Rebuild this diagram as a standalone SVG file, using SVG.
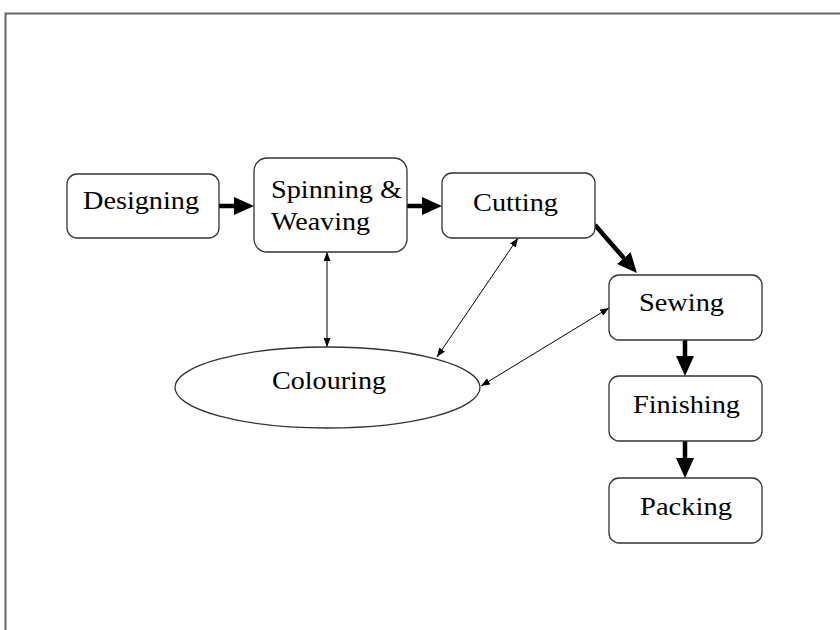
<svg xmlns="http://www.w3.org/2000/svg" width="840" height="630" viewBox="0 0 840 630">
  <style>
    .box { fill: #ffffff; stroke: #333333; stroke-width: 1.3; }
    .lbl { font-family: "Liberation Serif", "Times New Roman", serif; font-size: 25px; fill: #000000; }
    .flow { stroke: #000000; stroke-width: 4.5; fill: none; }
    .link { stroke: #000000; stroke-width: 1; fill: none; }
  </style>
  <defs>
    <marker id="bigHead" markerUnits="userSpaceOnUse" markerWidth="20" markerHeight="18" refX="0" refY="9" orient="auto">
      <path d="M0,0 L20,9 L0,18 z" fill="#000000"/>
    </marker>
    <marker id="smallHead" markerUnits="userSpaceOnUse" markerWidth="9" markerHeight="7" refX="9" refY="3.5" orient="auto-start-reverse">
      <path d="M0,0 L9,3.5 L0,7 z" fill="#000000"/>
    </marker>
  </defs>

  <rect width="840" height="630" fill="#ffffff"/>
  <!-- outer frame -->
  <rect x="5.5" y="13.5" width="860" height="660" fill="none" stroke="#666666" stroke-width="2"/>

  <g id="connectors">
    <line class="flow" x1="219" y1="206" x2="234" y2="206" marker-end="url(#bigHead)"/>
    <line class="flow" x1="407" y1="206" x2="422" y2="206" marker-end="url(#bigHead)"/>
    <line class="flow" x1="595" y1="225" x2="623.8" y2="258" marker-end="url(#bigHead)"/>
    <line class="flow" x1="685" y1="340" x2="685" y2="356" marker-end="url(#bigHead)"/>
    <line class="flow" x1="685" y1="441" x2="685" y2="458" marker-end="url(#bigHead)"/>
    <line class="link" x1="327" y1="252" x2="327" y2="347" marker-start="url(#smallHead)" marker-end="url(#smallHead)"/>
    <line class="link" x1="518" y1="238" x2="437" y2="357" marker-start="url(#smallHead)" marker-end="url(#smallHead)"/>
    <line class="link" x1="609" y1="308" x2="481" y2="386" marker-start="url(#smallHead)" marker-end="url(#smallHead)"/>
  </g>

  <g id="designing">
    <rect class="box" x="67" y="174" width="152" height="64" rx="10"/>
    <text class="lbl" x="83" y="209" textLength="116" lengthAdjust="spacingAndGlyphs">Designing</text>
  </g>
  <g id="spinning-weaving">
    <rect class="box" x="254" y="158" width="153" height="94" rx="13"/>
    <text class="lbl" x="271" y="198" textLength="131" lengthAdjust="spacingAndGlyphs">Spinning &amp;</text>
    <text class="lbl" x="271" y="230" textLength="99" lengthAdjust="spacingAndGlyphs">Weaving</text>
  </g>
  <g id="cutting">
    <rect class="box" x="442" y="173" width="153" height="65" rx="10"/>
    <text class="lbl" x="473" y="211" textLength="85" lengthAdjust="spacingAndGlyphs">Cutting</text>
  </g>
  <g id="sewing">
    <rect class="box" x="609" y="275" width="153" height="65" rx="10"/>
    <text class="lbl" x="639" y="311" textLength="85" lengthAdjust="spacingAndGlyphs">Sewing</text>
  </g>
  <g id="finishing">
    <rect class="box" x="609" y="376" width="153" height="65" rx="10"/>
    <text class="lbl" x="633" y="413" textLength="107" lengthAdjust="spacingAndGlyphs">Finishing</text>
  </g>
  <g id="packing">
    <rect class="box" x="609" y="478" width="153" height="65" rx="10"/>
    <text class="lbl" x="640" y="515" textLength="92" lengthAdjust="spacingAndGlyphs">Packing</text>
  </g>
  <g id="colouring">
    <ellipse class="box" cx="327.5" cy="387.5" rx="152.5" ry="40.5"/>
    <text class="lbl" x="272" y="389" textLength="114" lengthAdjust="spacingAndGlyphs">Colouring</text>
  </g>
</svg>
